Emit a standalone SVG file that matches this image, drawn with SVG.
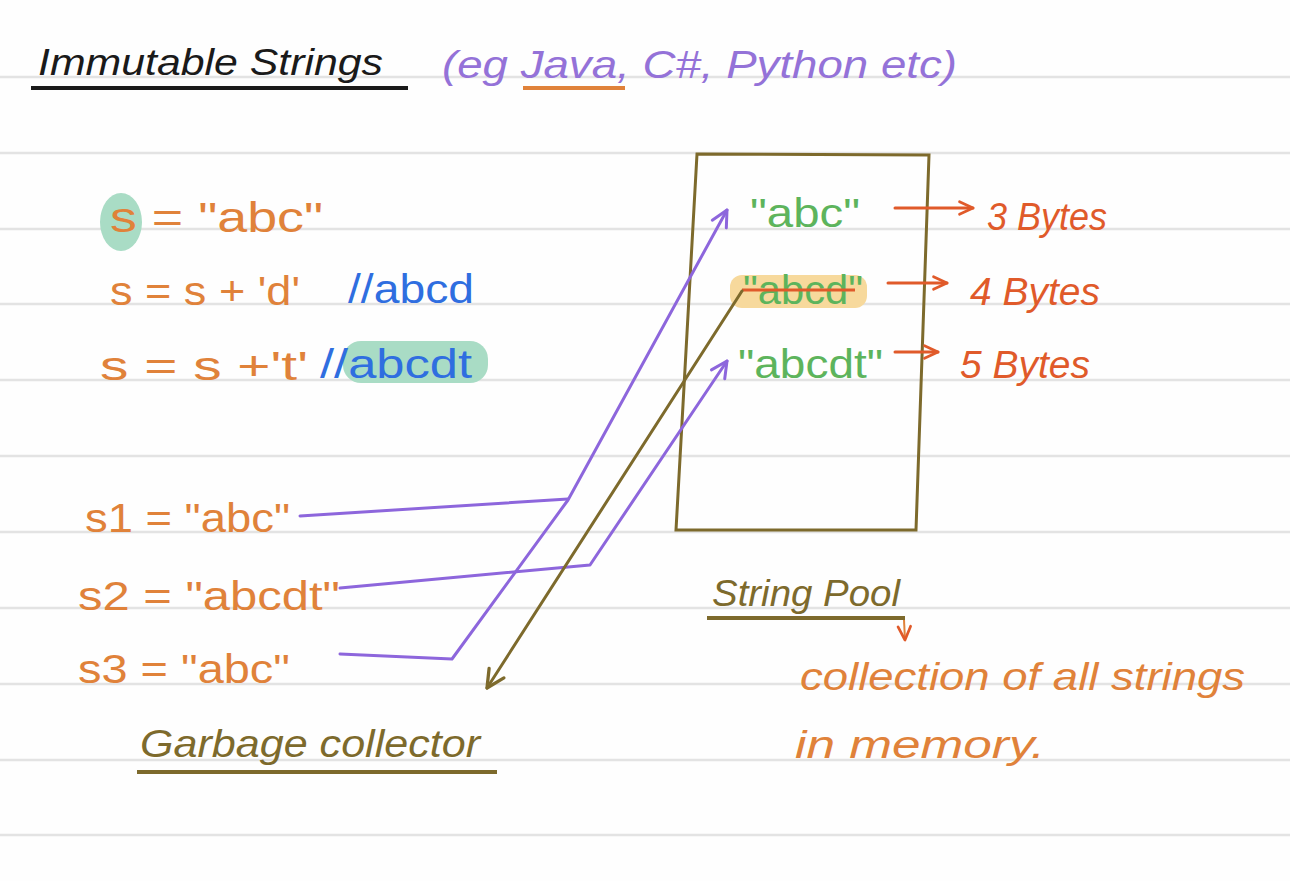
<svg xmlns="http://www.w3.org/2000/svg" width="1290" height="881" viewBox="0 0 1290 881">
<defs>
<style>
.rule{stroke:#e3e3e3;stroke-width:2.5}
.t{font-family:"Liberation Sans","Noto Sans",sans-serif}
.hand{font-style:italic}
.blk{fill:#1a1a1a}
.pur{fill:#9472d8}
.org{fill:#e0823a}
.red{fill:#e05a2a}
.blu{fill:#2f6ee0}
.grn{fill:#5db45c}
.olv{fill:#7d6a2c}
.pl{fill:none;stroke:#8d66dc;stroke-width:3;stroke-linecap:round;stroke-linejoin:round}
.ol{fill:none;stroke:#7d6a2c;stroke-width:3;stroke-linecap:round;stroke-linejoin:round}
.rl{fill:none;stroke:#e05a2a;stroke-width:3;stroke-linecap:round;stroke-linejoin:round}
</style>
<marker id="ap" viewBox="0 0 20 20" refX="18" refY="10" markerWidth="20" markerHeight="20" markerUnits="userSpaceOnUse" orient="auto"><path d="M2,2 L18,10 L2,18" fill="none" stroke="#8d66dc" stroke-width="3" stroke-linecap="round" stroke-linejoin="round"/></marker>
<marker id="ao" viewBox="0 0 20 20" refX="18" refY="10" markerWidth="22" markerHeight="22" markerUnits="userSpaceOnUse" orient="auto"><path d="M2,2 L18,10 L2,18" fill="none" stroke="#7d6a2c" stroke-width="3" stroke-linecap="round" stroke-linejoin="round"/></marker>
<marker id="ar" viewBox="0 0 20 20" refX="18" refY="10" markerWidth="18" markerHeight="18" markerUnits="userSpaceOnUse" orient="auto"><path d="M3,3 L18,10 L3,17" fill="none" stroke="#e05a2a" stroke-width="3" stroke-linecap="round" stroke-linejoin="round"/></marker>
</defs>
<rect width="1290" height="881" fill="#fefefe"/>
<g id="rules">
<line class="rule" x1="0" y1="77" x2="1290" y2="77"/>
<line class="rule" x1="0" y1="153" x2="1290" y2="153"/>
<line class="rule" x1="0" y1="229" x2="1290" y2="229"/>
<line class="rule" x1="0" y1="304" x2="1290" y2="304"/>
<line class="rule" x1="0" y1="380" x2="1290" y2="380"/>
<line class="rule" x1="0" y1="456" x2="1290" y2="456"/>
<line class="rule" x1="0" y1="532" x2="1290" y2="532"/>
<line class="rule" x1="0" y1="608" x2="1290" y2="608"/>
<line class="rule" x1="0" y1="684" x2="1290" y2="684"/>
<line class="rule" x1="0" y1="760" x2="1290" y2="760"/>
<line class="rule" x1="0" y1="835" x2="1290" y2="835"/>
</g>
<g id="title">
<text class="t hand blk" x="38" y="75" font-size="36" textLength="345" lengthAdjust="spacingAndGlyphs">Immutable Strings</text>
<line x1="31" y1="88" x2="408" y2="88" stroke="#1a1a1a" stroke-width="4"/>
<text class="t hand pur" x="442" y="78" font-size="38" textLength="515" lengthAdjust="spacingAndGlyphs">(eg Java, C#, Python etc)</text>
<line x1="523" y1="88" x2="625" y2="88" stroke="#e0823a" stroke-width="4"/>
</g>
<g id="code">
<ellipse cx="121" cy="222" rx="21" ry="29" fill="#a9dcc5"/>
<text class="t org" x="110" y="232" font-size="42" textLength="213" lengthAdjust="spacingAndGlyphs">s = "abc"</text>
<text class="t org" x="110" y="305" font-size="40" textLength="190" lengthAdjust="spacingAndGlyphs">s = s + 'd'</text>
<text class="t blu" x="348" y="303" font-size="40" textLength="126" lengthAdjust="spacingAndGlyphs">//abcd</text>
<text class="t org" x="100" y="380" font-size="40" textLength="208" lengthAdjust="spacingAndGlyphs">s = s +'t'</text>
<rect x="343" y="341" width="145" height="42" rx="18" fill="#a9dcc5"/>
<text class="t blu" x="320" y="378" font-size="40" textLength="152" lengthAdjust="spacingAndGlyphs">//abcdt</text>
</g>
<g id="s1"><text class="t org" x="85" y="532" font-size="40" textLength="205" lengthAdjust="spacingAndGlyphs">s1 = "abc"</text></g>
<g id="s2"><text class="t org" x="78" y="610" font-size="40" textLength="262" lengthAdjust="spacingAndGlyphs">s2 = "abcdt"</text></g>
<g id="s3"><text class="t org" x="78" y="683" font-size="40" textLength="212" lengthAdjust="spacingAndGlyphs">s3 = "abc"</text></g>
<g id="garbage-collector">
<text class="t hand olv" x="140" y="757" font-size="38" textLength="340" lengthAdjust="spacingAndGlyphs">Garbage collector</text>
<line x1="137" y1="772" x2="497" y2="772" stroke="#7d6a2c" stroke-width="4"/>
</g>
<g id="string-pool">
<path d="M697,154 L929,155 L916,530 L676,530 Z" fill="none" stroke="#7d6a2c" stroke-width="3"/>
<text class="t grn" x="750" y="227" font-size="40" textLength="110" lengthAdjust="spacingAndGlyphs">"abc"</text>
<rect x="730" y="275" width="137" height="33" rx="12" fill="#f7d99c"/>
<text class="t grn" x="743" y="304" font-size="40" textLength="120" lengthAdjust="spacingAndGlyphs">"abcd"</text>
<line x1="742" y1="290" x2="855" y2="290" stroke="#e05a2a" stroke-width="3"/>
<text class="t grn" x="738" y="378" font-size="40" textLength="145" lengthAdjust="spacingAndGlyphs">"abcdt"</text>
<text class="t hand olv" x="712" y="606" font-size="36" textLength="188" lengthAdjust="spacingAndGlyphs">String Pool</text>
<line x1="707" y1="618" x2="905" y2="618" stroke="#7d6a2c" stroke-width="4"/>
</g>
<g id="bytes">
<text class="t hand red" x="987" y="230" font-size="38" textLength="120" lengthAdjust="spacingAndGlyphs">3 Bytes</text>
<text class="t hand red" x="970" y="305" font-size="38" textLength="130" lengthAdjust="spacingAndGlyphs">4 Bytes</text>
<text class="t hand red" x="960" y="378" font-size="38" textLength="130" lengthAdjust="spacingAndGlyphs">5 Bytes</text>
</g>
<g id="description">
<text class="t hand org" x="800" y="690" font-size="38" textLength="445" lengthAdjust="spacingAndGlyphs">collection of all strings</text>
<text class="t hand org" x="795" y="758" font-size="38" textLength="250" lengthAdjust="spacingAndGlyphs">in memory.</text>
</g>
<g id="connectors">
<path class="pl" d="M300,516 L568,499"/>
<path class="pl" d="M340,654 L452,659 L568,500 L727,210" marker-end="url(#ap)"/>
<path class="pl" d="M340,588 L590,565 L727,361" marker-end="url(#ap)"/>
<path class="ol" d="M742,291 L487,688" marker-end="url(#ao)"/>
<path class="rl" d="M895,208 L973,208" marker-end="url(#ar)"/>
<path class="rl" d="M888,283 L947,283" marker-end="url(#ar)"/>
<path class="rl" d="M895,352 L938,352" marker-end="url(#ar)"/>
<path d="M904,620 L905,640" fill="none" stroke="#e0823a" stroke-width="2" marker-end="url(#ar)"/>
</g>
</svg>
